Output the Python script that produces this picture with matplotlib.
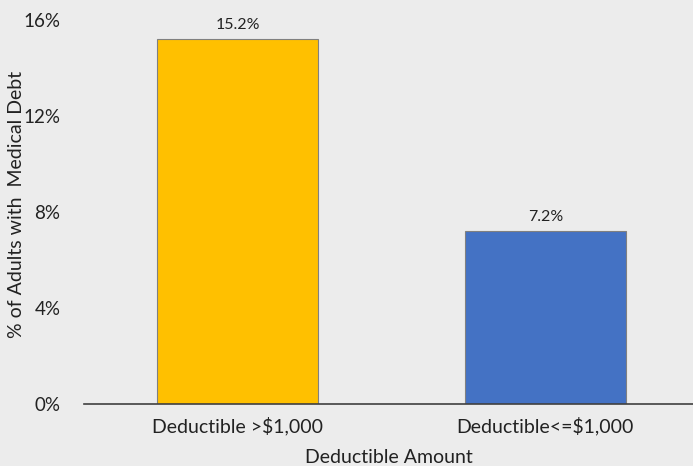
import matplotlib
matplotlib.use("Agg")
import matplotlib.pyplot as plt

categories = ["Deductible >$1,000", "Deductible<=$1,000"]
values = [15.2, 7.2]
colors = ["#FFC000", "#4472C4"]
yticks = [0, 4, 8, 12, 16]

FAM = ['Lato', 'DejaVu Sans']
plt.rcParams['font.family'] = FAM
bg = "#ECECEC"
fig = plt.figure(figsize=(6.93, 4.66), dpi=100, facecolor=bg)
ax = fig.add_axes([84/693, 62/466, (693-84)/693, 384/466], facecolor=bg)

x = list(range(len(categories)))
ax.bar(x, values, width=0.524, color=colors, edgecolor="#808080", linewidth=0.8, zorder=2)
for xi, v in zip(x, values):
    ax.text(xi, v + 0.3, f"{v:.1f}%", ha="center", va="bottom", fontsize=11.5, color="#222222")

ax.set_xlim(-0.5, 1.48)
ax.set_ylim(0, 16)
ax.set_yticks(yticks)
ax.set_yticklabels([f"{t}%" for t in yticks], fontsize=13.5, color="#222222")
ax.set_xticks(x)
ax.set_xticklabels(categories, fontsize=14, color="#222222")
ax.tick_params(axis="both", length=0)
ax.tick_params(axis="x", pad=9)
ax.tick_params(axis="y", pad=17)
for s in ["top", "right", "left"]:
    ax.spines[s].set_visible(False)
ax.spines["bottom"].set_color("#404040")
ax.spines["bottom"].set_linewidth(1.2)
ax.set_xlabel("Deductible Amount", fontsize=14, color="#222222", labelpad=10)
ax.set_ylabel("% of Adults with  Medical Debt", fontsize=14, color="#222222")
ax.yaxis.set_label_coords(-0.097, 0.52)

fig.savefig("out.png", dpi=100, facecolor=bg)
